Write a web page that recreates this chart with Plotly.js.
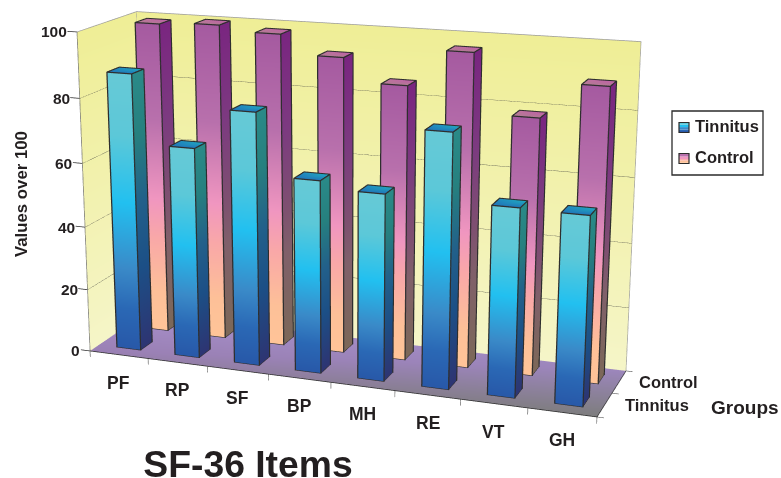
<!DOCTYPE html>
<html>
<head>
<meta charset="utf-8">
<script src="https://cdn.plot.ly/plotly-3.0.1.min.js"></script>
<style>
html,body{margin:0;padding:0;width:781px;height:478px;overflow:hidden;background:#fff}
#chart{position:absolute}
</style>
</head>
<body>
<div id="chart"></div>
<script>
// SF-36 item scores for the two groups
const categories = ['PF','RP','SF','BP','MH','RE','VT','GH'];
const groups = ['Tinnitus','Control'];
const tinnitus = [87.2,66,78.5,59.6,57.4,77.2,57,56.7];
const control = [99,99.8,98.2,92.4,85.3,96.4,78.6,89.2];
const valueTicks = [0,20,40,60,80,100];

// Colour ramps: [fraction of bar height, colour]
const tinnitusFront = [[0,'#2858a8'],[0.15,'#2a68b5'],[0.3,'#3a8ac8'],[0.54,'#22c0f0'],[0.78,'#5cc8d8'],[1,'#66c9d6']];
const tinnitusSide = [[0,'#2e3472'],[0.3,'#1c4f86'],[0.54,'#22608a'],[0.78,'#26807f'],[1,'#2a8a88']];
const controlFront = [[0,'#ffc498'],[0.13,'#fdc098'],[0.31,'#f9a8a8'],[0.44,'#f096c0'],[0.7,'#b870ac'],[1,'#a55aa0']];
const controlSide = [[0,'#7c6858'],[0.3,'#80606a'],[0.44,'#7e5070'],[0.7,'#7c3a80'],[1,'#7a2580']];
const tinnitusTop = ['#2070b8','#2070b8','#20a8c0','#2090c0'];
const controlTop = ['#b08090','#b08090','#c060a8','#c070a0'];

// Page and scene geometry
const W = 1000, H = 1530, LEFT = -179, TOP = -524;
const chart = document.getElementById('chart');
chart.style.left = LEFT + 'px';
chart.style.top = TOP + 'px';
const px = (x, y) => ({x: (x - LEFT) / W, y: 1 - (y - TOP) / H});

const range = {x: [-0.4, 8.4], y: [-0.3, 2.2], z: [-4, 104]};
const unit = {x: 0.5141 / 8, y: 0.1279 / 2, z: 0.3217 / 100};
const mid = a => (a[0] + a[1]) / 2;
const shift = {
  x: (4 - mid(range.x)) * unit.x,
  y: (1 - mid(range.y)) * unit.y,
  z: (50 - mid(range.z)) * unit.z
};
const moved = (p) => ({x: p.x + shift.x, y: p.y + shift.y, z: p.z + shift.z});

const slot = 0.525, halfW = 0.2, halfD = 0.2;

function face(mesh, corners, colours) {
  const n = mesh.x.length;
  corners.forEach((c, m) => {
    mesh.x.push(c[0]); mesh.y.push(c[1]); mesh.z.push(c[2]);
    mesh.vertexcolor.push(colours[m]);
  });
  mesh.i.push(n, n); mesh.j.push(n + 1, n + 2); mesh.k.push(n + 2, n + 3);
}

function ramped(mesh, a, b, value, ramp) {
  // a, b are the two floor corners of one vertical bar face
  for (let s = 0; s < ramp.length - 1; s++) {
    const z0 = ramp[s][0] * value, z1 = ramp[s + 1][0] * value;
    face(mesh,
      [[a[0], a[1], z0], [b[0], b[1], z0], [b[0], b[1], z1], [a[0], a[1], z1]],
      [ramp[s][1], ramp[s][1], ramp[s + 1][1], ramp[s + 1][1]]);
  }
}

function seriesMesh(values, g, name, front, side, top) {
  const mesh = {type: 'mesh3d', name, x: [], y: [], z: [], i: [], j: [], k: [], vertexcolor: [],
    flatshading: false, hoverinfo: 'skip', showscale: false,
    lighting: {ambient: 1, diffuse: 0, specular: 0, roughness: 1, fresnel: 0}};
  values.forEach((v, c) => {
    const x0 = c + slot - halfW, x1 = c + slot + halfW;
    const y0 = g + 0.5 - halfD, y1 = g + 0.5 + halfD;
    ramped(mesh, [x0, y0], [x1, y0], v, front);
    ramped(mesh, [x1, y0], [x1, y1], v, side);
    face(mesh, [[x0, y0, v], [x1, y0, v], [x1, y1, v], [x0, y1, v]], top);
  });
  return mesh;
}

function barEdges(values, g) {
  const xs = [], ys = [], zs = [], e = 0.006;
  const seg = (p) => { p.forEach(q => { xs.push(q[0]); ys.push(q[1]); zs.push(q[2]); }); xs.push(null); ys.push(null); zs.push(null); };
  values.forEach((v, c) => {
    const x0 = c + slot - halfW - e, x1 = c + slot + halfW + e;
    const y0 = g + 0.5 - halfD - e, y1 = g + 0.5 + halfD + e;
    const t = v + 0.1;
    seg([[x0, y0, 0], [x1, y0, 0], [x1, y1, 0], [x1, y1, t], [x0, y1, t], [x0, y0, t], [x0, y0, 0]]);
    seg([[x0, y0, t], [x1, y0, t], [x1, y1, t]]);
    seg([[x1, y0, 0], [x1, y0, t]]);
  });
  return {type: 'scatter3d', mode: 'lines', x: xs, y: ys, z: zs, showlegend: false, hoverinfo: 'skip',
    line: {color: '#2e2e2e', width: 2.5}};
}

// Walls and floor
const walls = {type: 'mesh3d', x: [], y: [], z: [], i: [], j: [], k: [], vertexcolor: [], hoverinfo: 'skip',
  lighting: {ambient: 1, diffuse: 0, specular: 0, roughness: 1, fresnel: 0}};
const wallTop = '#efee96', wallBottom = '#f5f5c8';
face(walls, [[0, 0, 0], [0, 2, 0], [0, 2, 100], [0, 0, 100]], [wallBottom, wallBottom, wallTop, wallTop]);
face(walls, [[0, 2, 0], [8, 2, 0], [8, 2, 100], [0, 2, 100]], [wallBottom, wallBottom, wallTop, wallTop]);
face(walls, [[0, 0, 0], [8, 0, 0], [8, 2, 0], [0, 2, 0]], ['#9a80b4', '#7d7d7d', '#9c86bc', '#a890cc']);

function linesTrace(segments, color, width) {
  const xs = [], ys = [], zs = [];
  segments.forEach(s => { s.forEach(q => { xs.push(q[0]); ys.push(q[1]); zs.push(q[2]); }); xs.push(null); ys.push(null); zs.push(null); });
  return {type: 'scatter3d', mode: 'lines', x: xs, y: ys, z: zs, showlegend: false, hoverinfo: 'skip',
    line: {color, width}};
}

const gridSegs = valueTicks.filter(v => v > 0 && v < 100).map(v => [[0, 0, v], [0, 2, v], [8, 2, v]]);
const rimSegs = [[[0, 0, 100], [0, 2, 100], [8, 2, 100], [8, 2, 0]], [[0, 2, 0], [0, 2, 100]]];
const leftEdge = [[[0, 0, 100], [0, 0, 0]]];
const axisSegs = [[[0, 0, 0], [8, 0, 0], [8, 2, 0]]];
valueTicks.forEach(v => axisSegs.push([[0, 0, v], [-0.16, 0, v]]));
const tickSegs = [];
categories.forEach((c, n) => tickSegs.push([[n, 0, 0], [n, 0, -2]]));
tickSegs.push([[8, 0, 0], [8, 0, -2]]);
[0, 1, 2].forEach(g => tickSegs.push([[8, g, 0], [8.1, g, 0]]));

const traces = [
  walls,
  linesTrace(gridSegs, '#3a3a3a', 1),
  linesTrace(rimSegs, '#9a9a9a', 1.5),
  linesTrace(leftEdge, '#6e6e6e', 1.5),
  seriesMesh(control, 1, 'Control', controlFront, controlSide, controlTop),
  barEdges(control, 1),
  seriesMesh(tinnitus, 0, 'Tinnitus', tinnitusFront, tinnitusSide, tinnitusTop),
  barEdges(tinnitus, 0),
  linesTrace(axisSegs, '#2b2b2b', 1.5),
  linesTrace(tickSegs, '#555555', 1.2)
];

const bold = (size) => ({family: 'Liberation Sans, Arial, sans-serif', size, color: '#231f20', weight: 700});

const sceneNotes = [];
valueTicks.forEach(v => sceneNotes.push({x: 0, y: 0, z: v, text: '<b>' + v + '</b>', showarrow: false,
  xanchor: 'right', xshift: -8, font: bold(15.5)}));
categories.forEach((c, n) => sceneNotes.push({x: n + 0.5, y: 0, z: 0, text: '<b>' + c + '</b>', showarrow: false,
  xanchor: 'center', yshift: -28, xshift: 0, font: bold(17.5)}));
groups.forEach((g, n) => sceneNotes.push({x: 8, y: n + 0.5, z: 0, text: '<b>' + g + '</b>', showarrow: false,
  xanchor: 'left', xshift: 18, yshift: 0, font: bold(16.5)}));

// Paper-anchored labels
const note = (x, y, text, size, extra) => Object.assign({
  xref: 'paper', yref: 'paper', x: px(x, y).x, y: px(x, y).y, text: '<b>' + text + '</b>',
  showarrow: false, font: bold(size), xanchor: 'center', yanchor: 'middle'}, extra || {});

const notes = [
  note(21, 194, 'Values over 100', 16.8, {textangle: -90}),
  note(745, 408, 'Groups', 19),
  note(692.5, 126, 'Tinnitus', 16.5, {xanchor: 'left'}),
  note(692.5, 157, 'Control', 16.5, {xanchor: 'left'})
];

// Legend frame and its graded swatches
const shapes = [];
const frameA = px(672, 111), frameB = px(763, 175);
shapes.push({type: 'rect', xref: 'paper', yref: 'paper', x0: frameA.x, y0: frameA.y, x1: frameB.x, y1: frameB.y,
  line: {color: '#2b2b2b', width: 1.3}, fillcolor: '#ffffff', layer: 'above'});
function swatch(x, y, ramp) {
  const size = 10;
  for (let s = 0; s < ramp.length - 1; s++) {
    const a = px(x, y + size * (1 - ramp[s + 1][0])), b = px(x + size, y + size * (1 - ramp[s][0]));
    shapes.push({type: 'rect', xref: 'paper', yref: 'paper', x0: a.x, y0: a.y, x1: b.x, y1: b.y,
      line: {width: 0}, fillcolor: ramp[s][1], layer: 'above'});
  }
  const a = px(x, y), b = px(x + size, y + size);
  shapes.push({type: 'rect', xref: 'paper', yref: 'paper', x0: a.x, y0: a.y, x1: b.x, y1: b.y,
    line: {color: '#2b2b2b', width: 1.2}, layer: 'above'});
}
swatch(679, 122.5, tinnitusFront);
swatch(679, 153.5, controlFront);

const axisOff = (r) => ({visible: false, range: r, autorange: false, showspikes: false});
const titlePos = px(248, 464);

const layout = {
  width: W, height: H,
  margin: {l: 0, r: 0, t: 0, b: 0},
  paper_bgcolor: '#ffffff',
  showlegend: false,
  title: {text: '<b>SF-36 Items</b>', x: titlePos.x, y: titlePos.y, xref: 'paper', yref: 'paper',
    xanchor: 'center', yanchor: 'middle', font: bold(37.3)},
  annotations: notes,
  shapes,
  scene: {
    domain: {x: [0, 1], y: [0, 1]},
    bgcolor: '#ffffff',
    xaxis: axisOff(range.x), yaxis: axisOff(range.y), zaxis: axisOff(range.z),
    aspectmode: 'manual',
    aspectratio: {
      x: (range.x[1] - range.x[0]) * unit.x,
      y: (range.y[1] - range.y[0]) * unit.y,
      z: (range.z[1] - range.z[0]) * unit.z
    },
    camera: {
      projection: {type: 'perspective'},
      eye: moved({x: 0.5774, y: -1.6112, z: 0.4611}),
      center: moved({x: -0.02595, y: -0.02076, z: -0.03503}),
      up: {x: -0.0959, y: 0.2629, z: 0.96}
    },
    annotations: sceneNotes
  }
};

Plotly.newPlot(chart, traces, layout, {displayModeBar: false});
</script>
</body>
</html>
